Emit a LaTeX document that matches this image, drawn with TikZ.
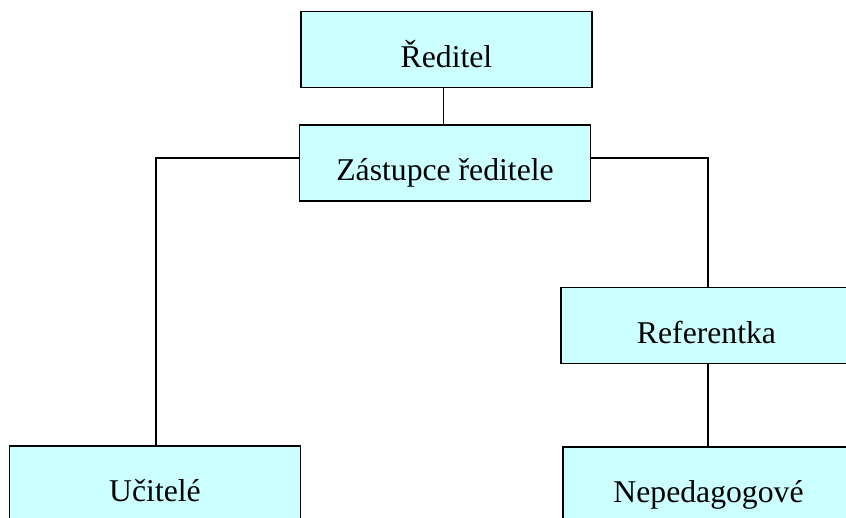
\documentclass[tikz,border=0pt]{standalone}
\usepackage{fontspec}
\setmainfont{Liberation Serif}
\definecolor{boxfill}{HTML}{CCFFFF}
\begin{document}
\begin{tikzpicture}[x=1pt,y=-1pt,
  orgbox/.style={draw=black, fill=boxfill, line width=1.9pt, inner sep=0pt,
    minimum width=291pt, text height=55.5pt, text depth=20.5pt,
    font=\fontsize{31.7}{36}\selectfont},
  link/.style={draw=black, line width=1.9pt}]
\useasboundingbox (0,0) rectangle (846,517);
\clip (0,0) rectangle (846,517);
\node[orgbox] (red) at (446.5,49.5) {Ředitel};
\node[orgbox] (zast) at (445,163) {Zástupce ředitele};
\node[orgbox] (ref) at (706.5,325.5) {Referentka};
\node[orgbox] (uc) at (155,484) {Učitelé};
\node[orgbox] (nep) at (708.5,485) {Nepedagogové};
\draw[link] ([xshift=-3pt]red.south) -- ([xshift=-3pt]red.south |- zast.north);
\draw[link] ([yshift=5pt]zast.east) -| ([xshift=1.5pt]ref.north);
\draw[link] ([yshift=5pt]zast.west) -| ([xshift=1pt]uc.north);
\draw[link] ([xshift=1.5pt]ref.south) -- ([xshift=1.5pt]ref.south |- nep.north);
\end{tikzpicture}
\end{document}
